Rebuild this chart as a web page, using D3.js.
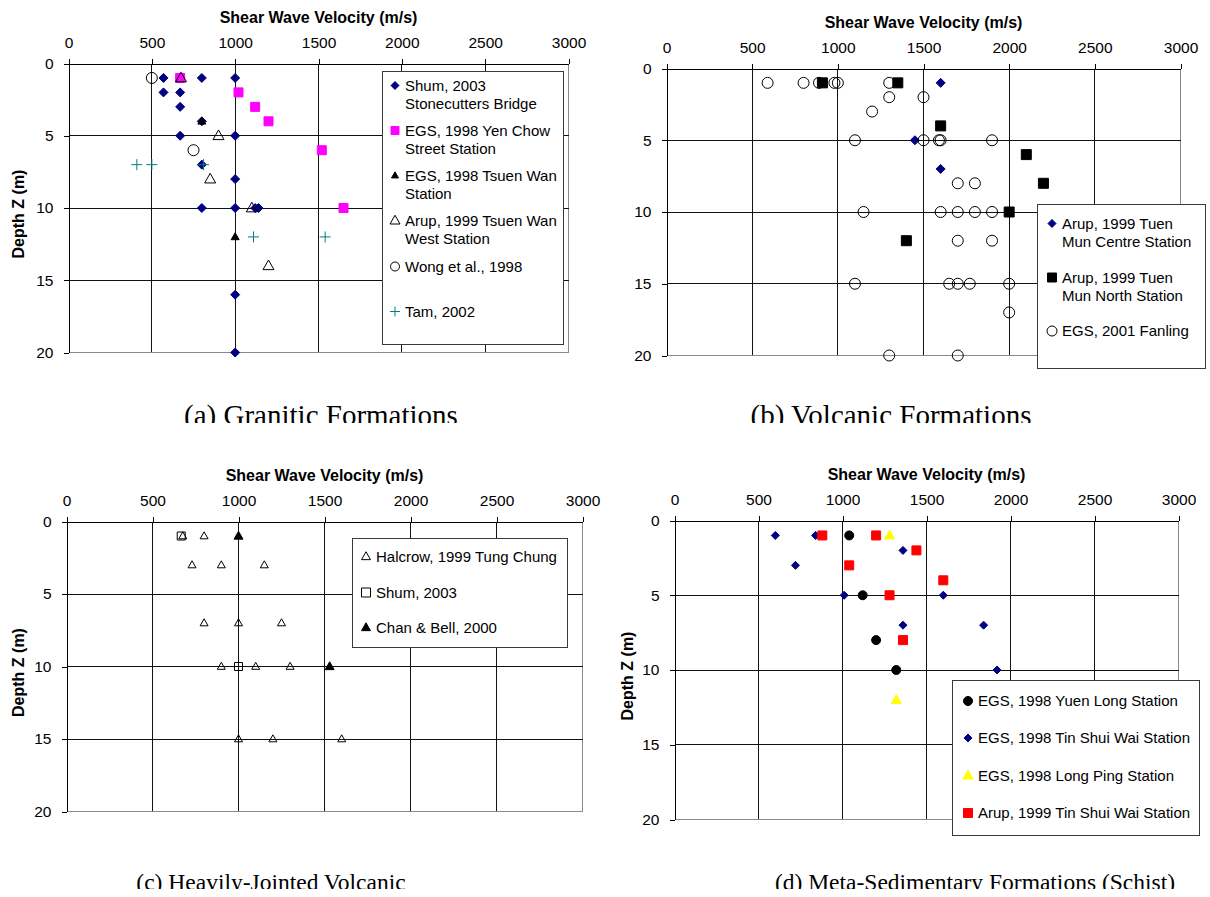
<!DOCTYPE html>
<html lang="en">
<head>
<meta charset="UTF-8">
<title>Shear Wave Velocity profiles</title>
<script src="https://cdn.jsdelivr.net/npm/d3@7"></script>
<style>
  body { margin: 0; background: #fff; }
  svg text { font-family: "Liberation Sans", Arial, sans-serif; fill: #000; }
  svg text.caption { font-family: "Liberation Serif", "Times New Roman", serif; }
</style>
</head>
<body>
<div id="chart"></div>
<script>
// axis ticks
var vTicks = [0, 500, 1000, 1500, 2000, 2500, 3000];
var zTicks = [0, 5, 10, 15, 20];

// (a) Granitic Formations  [velocity m/s, depth m]
var aShum = [[570,1],[800,1],[1000,1],[570,2],[670,2],[670,3],[800,4],[670,5],[1000,5],
             [800,7],[1000,8],[800,10],[1000,10],[1120,10],[1140,10],[1000,16],[1000,20]];
var aYenChow = [[670,1],[1020,2],[1120,3],[1200,4],[1520,6],[1650,10]];
var aTsuenWan = [[800,4],[1000,12]];
var aTsuenWanWest = [[675,1],[900,5],[850,8],[1100,10],[1200,14]];
var aWong = [[500,1],[750,6]];
var aTam = [[410,7],[500,7],[810,7],[1110,12],[1540,12]];
var aNames = [["Shum, 2003", "Stonecutters Bridge"], ["EGS, 1998 Yen Chow", "Street Station"],
              ["EGS, 1998 Tsuen Wan", "Station"], ["Arup, 1999 Tsuen Wan", "West Station"],
              ["Wong et al., 1998"], ["Tam, 2002"]];

// (b) Volcanic Formations
var bCentre = [[1600,1],[1450,5],[1600,7]];
var bNorth = [[910,1],[1350,1],[1600,4],[2100,6],[2200,8],[2000,10],[1400,12]];
var bFanling = [[590,1],[800,1],[890,1],[980,1],[1000,1],[1300,1],[1300,2],[1500,2],[1200,3],
                [1100,5],[1500,5],[1590,5],[1600,5],[1900,5],[1700,8],[1800,8],
                [1150,10],[1600,10],[1700,10],[1800,10],[1900,10],[1700,12],[1900,12],
                [1100,15],[1650,15],[1700,15],[1770,15],[2000,15],[2000,17],[1300,20],[1700,20]];
var bNames = [["Arup, 1999 Tuen", "Mun Centre Station"], ["Arup, 1999 Tuen", "Mun North Station"],
              ["EGS, 2001 Fanling"]];

// (c) Heavily-Jointed Volcanic
var cHalcrow = [[676,1],[800,1],[730,3],[900,3],[1150,3],[800,7],[1000,7],[1250,7],
                [900,10],[1100,10],[1300,10],[1000,15],[1200,15],[1600,15]];
var cShum = [[667,1],[1000,10]];
var cChanBell = [[1000,1],[1530,10]];
var cNames = [["Halcrow, 1999 Tung Chung"], ["Shum, 2003"], ["Chan & Bell, 2000"]];

// (d) Meta-Sedimentary Formations (Schist)
var dYuenLong = [[1040,1],[1120,5],[1200,8],[1320,10]];
var dTinShuiWai = [[600,1],[840,1],[1360,2],[720,3],[1010,5],[1600,5],[1360,7],[1840,7],[1920,10]];
var dLongPing = [[1280,1],[1320,12]];
var dArupTSW = [[880,1],[1200,1],[1440,2],[1040,3],[1600,4],[1280,5],[1360,8]];
var dNames = [["EGS, 1998 Yuen Long Station"], ["EGS, 1998 Tin Shui Wai Station"],
              ["EGS, 1998 Long Ping Station"], ["Arup, 1999 Tin Shui Wai Station"]];

var svg = d3.select("#chart").append("svg")
            .attr("width", 1210).attr("height", 897);

// marker shapes
function marker(shape, s) {
  var p = d3.path(), h = s / 2;
  if (shape == "diamond") { p.moveTo(0,-h); p.lineTo(h,0); p.lineTo(0,h); p.lineTo(-h,0); p.closePath(); }
  else if (shape == "square") { p.rect(-h,-h,s,s); }
  else if (shape == "triangle") { p.moveTo(0,-h*1.05); p.lineTo(h,h*0.7); p.lineTo(-h,h*0.7); p.closePath(); }
  else if (shape == "circle") { p.moveTo(h,0); p.arc(0,0,h,0,2*Math.PI); }
  else if (shape == "plus") { p.moveTo(-h,0); p.lineTo(h,0); p.moveTo(0,-h); p.lineTo(0,h); }
  return p.toString();
}

function drawPanel(p) {
  var x = d3.scaleLinear().domain([0, 3000]).range([p.x0, p.x1]);
  var y = d3.scaleLinear().domain([0, 20]).range([p.y0, p.y1]);
  var g = svg.append("g");

  // grid
  g.selectAll(".vg").data(vTicks.slice(1)).enter().append("line")
    .attr("x1", function(d){ return x(d); }).attr("x2", function(d){ return x(d); })
    .attr("y1", y(0)).attr("y2", y(20))
    .attr("stroke", function(d){ return d == 3000 ? "#8a8a8a" : "#111"; })
    .attr("shape-rendering", "crispEdges");
  g.selectAll(".hg").data(zTicks.slice(1)).enter().append("line")
    .attr("y1", function(d){ return y(d); }).attr("y2", function(d){ return y(d); })
    .attr("x1", x(0)).attr("x2", x(3000))
    .attr("stroke", function(d){ return d == 20 ? "#8a8a8a" : "#111"; })
    .attr("shape-rendering", "crispEdges");

  // axes
  var xa = g.append("g").attr("transform", "translate(0," + y(0) + ")")
    .call(d3.axisTop(x).tickValues(vTicks).tickFormat(d3.format("d"))
            .tickSizeInner(5).tickSizeOuter(0).tickPadding(11));
  var ya = g.append("g").attr("transform", "translate(" + x(0) + ",0)")
    .call(d3.axisLeft(y).tickValues(zTicks).tickFormat(d3.format("d"))
            .tickSizeInner(5).tickSizeOuter(0).tickPadding(10));
  [xa, ya].forEach(function(a) {
    a.selectAll("text").style("font-size", "15.5px").style("font-family", "Liberation Sans, Arial, sans-serif");
    a.selectAll("line,path").attr("stroke", "#000").attr("shape-rendering", "crispEdges");
  });

  g.append("text").attr("x", (p.x0 + p.x1) / 2).attr("y", p.y0 - 41)
    .attr("text-anchor", "middle").style("font-size", "16px").style("font-weight", "bold")
    .text("Shear Wave Velocity (m/s)");
  if (p.yTitle) {
    var cy = (p.y0 + p.y1) / 2 + 6;
    g.append("text").attr("transform", "translate(" + p.yTitle + "," + cy + ") rotate(-90)")
      .attr("text-anchor", "middle").attr("dy", "0.35em")
      .style("font-size", "16px").style("font-weight", "bold")
      .text("Depth Z (m)");
  }

  // points
  p.series.forEach(function(s) {
    g.append("g").selectAll("path").data(s.data).enter().append("path")
      .attr("transform", function(d){ return "translate(" + x(d[0]) + "," + y(d[1]) + ")"; })
      .attr("d", marker(s.shape, s.size))
      .attr("fill", s.fill).attr("stroke", s.stroke).attr("stroke-width", s.sw || 1);
  });

  // legend
  var L = p.legend;
  var lg = g.append("g");
  lg.append("rect").attr("x", L.x).attr("y", L.y).attr("width", L.w).attr("height", L.h)
    .attr("fill", "#fff").attr("stroke", "#3a3a3a").attr("shape-rendering", "crispEdges");
  p.series.forEach(function(s, i) {
    var ry = L.rows[i];
    lg.append("path").attr("transform", "translate(" + L.mx + "," + ry + ")")
      .attr("d", marker(s.shape, s.lsize || s.size - 1))
      .attr("fill", s.fill).attr("stroke", s.stroke).attr("stroke-width", s.sw || 1);
    var t = lg.append("text").attr("x", L.tx).attr("y", ry).attr("dy", "0.36em")
      .style("font-size", "15px");
    s.name.forEach(function(line, j) {
      t.append("tspan").attr("x", L.tx).attr("dy", j == 0 ? "0.36em" : L.lh).text(line);
    });
  });

  // caption, cropped at the bottom like the source
  var cid = "clip" + p.id;
  svg.append("clipPath").attr("id", cid).append("rect")
    .attr("x", 0).attr("y", p.capY - 40).attr("width", 1210).attr("height", p.capClip - p.capY + 40);
  svg.append("text").attr("class", "caption").attr("clip-path", "url(#" + cid + ")")
    .attr("x", p.capX).attr("y", p.capY).attr("text-anchor", "middle")
    .style("font-size", p.capSize + "px").text(p.caption);
}

drawPanel({
  id: "a", x0: 68.5, x1: 568.5, y0: 63.5, y1: 352.5, yTitle: 18,
  series: [
    {name: aNames[0], data: aShum, shape: "diamond", size: 9, fill: "#000080", stroke: "#000080", lsize: 8},
    {name: aNames[1], data: aYenChow, shape: "square", size: 9, fill: "#ff00ff", stroke: "#ff00ff", lsize: 8},
    {name: aNames[2], data: aTsuenWan, shape: "triangle", size: 8, fill: "#000", stroke: "#000", lsize: 7},
    {name: aNames[3], data: aTsuenWanWest, shape: "triangle", size: 11, fill: "none", stroke: "#000", lsize: 10},
    {name: aNames[4], data: aWong, shape: "circle", size: 11, fill: "none", stroke: "#000", lsize: 9},
    {name: aNames[5], data: aTam, shape: "plus", size: 11, fill: "none", stroke: "#008080", lsize: 10}
  ],
  legend: {x: 382.5, y: 71.5, w: 181, h: 273, mx: 395, tx: 405, lh: 17.7,
           rows: [85.5, 130.5, 175.5, 220.5, 266.5, 311.5]},
  caption: "(a) Granitic Formations", capX: 321, capY: 425, capClip: 423, capSize: 29
});

drawPanel({
  id: "b", x0: 666.5, x1: 1180.5, y0: 68.5, y1: 355.5, yTitle: null,
  series: [
    {name: bNames[0], data: bCentre, shape: "diamond", size: 9, fill: "#000080", stroke: "#000080", lsize: 8},
    {name: bNames[1], data: bNorth, shape: "square", size: 10, fill: "#000", stroke: "#000", lsize: 9},
    {name: bNames[2], data: bFanling, shape: "circle", size: 11, fill: "none", stroke: "#000", lsize: 10}
  ],
  legend: {x: 1037.5, y: 204.5, w: 168, h: 164, mx: 1052, tx: 1062, lh: 18.4,
           rows: [223.5, 277.5, 331]},
  caption: "(b) Volcanic Formations", capX: 891, capY: 425, capClip: 423, capSize: 29
});

drawPanel({
  id: "c", x0: 66.5, x1: 582.5, y0: 521.5, y1: 811.5, yTitle: 18,
  series: [
    {name: cNames[0], data: cHalcrow, shape: "triangle", size: 8, fill: "none", stroke: "#000", lsize: 9},
    {name: cNames[1], data: cShum, shape: "square", size: 8, fill: "none", stroke: "#000", lsize: 9},
    {name: cNames[2], data: cChanBell, shape: "triangle", size: 9, fill: "#000", stroke: "#000", lsize: 9}
  ],
  legend: {x: 352.5, y: 538.5, w: 215, h: 109, mx: 366, tx: 376, lh: 18,
           rows: [556.5, 592.5, 627.5]},
  caption: "(c) Heavily-Jointed Volcanic", capX: 271, capY: 890, capClip: 889, capSize: 23.5
});

drawPanel({
  id: "d", x0: 674.5, x1: 1178.5, y0: 520.5, y1: 819.5, yTitle: 627,
  series: [
    {name: dNames[0], data: dYuenLong, shape: "circle", size: 9, fill: "#000", stroke: "#000", lsize: 9},
    {name: dNames[1], data: dTinShuiWai, shape: "diamond", size: 8, fill: "#000080", stroke: "#000080", lsize: 8},
    {name: dNames[2], data: dLongPing, shape: "triangle", size: 10, fill: "#ffff00", stroke: "#ffff00", lsize: 10},
    {name: dNames[3], data: dArupTSW, shape: "square", size: 9, fill: "#ff0000", stroke: "#ff0000", lsize: 9}
  ],
  legend: {x: 952.5, y: 680.5, w: 247, h: 155, mx: 968, tx: 978, lh: 18,
           rows: [701, 738, 775.5, 813]},
  caption: "(d) Meta-Sedimentary Formations (Schist)", capX: 975, capY: 890, capClip: 889, capSize: 23.5
});
</script>
</body>
</html>
